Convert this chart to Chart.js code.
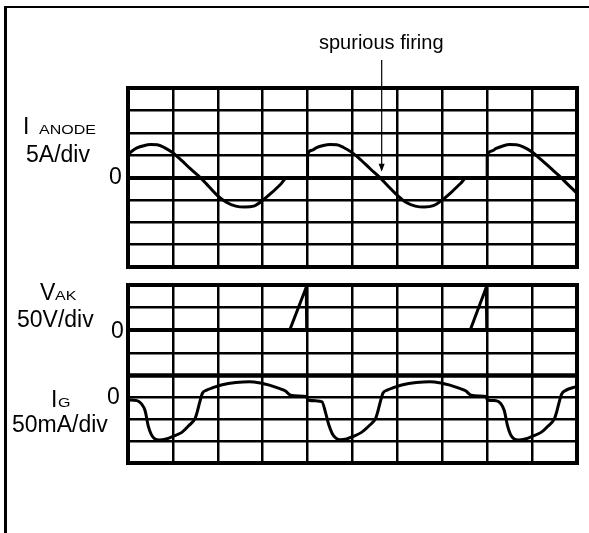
<!DOCTYPE html>
<html>
<head>
<meta charset="utf-8">
<script src="https://cdn.jsdelivr.net/npm/chart.js@4.4.1/dist/chart.umd.min.js"></script>
<style>
  html, body { margin: 0; padding: 0; background: #fff; }
  body { width: 589px; height: 533px; position: relative; overflow: hidden;
         font-family: "Liberation Sans", Arial, Helvetica, sans-serif; color: #000; }
  canvas { position: absolute; left: 0; }
  .frame { position: absolute; left: 4px; top: 6px; width: 700px; height: 700px;
           border-left: 3px solid #000; border-top: 2px solid #000; }
  .lbl { position: absolute; white-space: nowrap; font-size: 23px; line-height: 23px; z-index: 2; }
  .sub { font-size: 16px; line-height: 16px; transform: scaleY(0.8); transform-origin: 0 13.5px; }
  .note { font-size: 20px; line-height: 20px; }
</style>
</head>
<body>
<div class="frame"></div>

<div class="lbl note" style="left:319px; top:32px;">spurious firing</div>

<div class="lbl" style="left:23px; top:115px;">I</div>
<div class="lbl sub" style="left:39px; top:121px;">ANODE</div>
<div class="lbl" style="left:26px; top:143px;">5A/div</div>
<div class="lbl" style="left:109px; top:165px;">0</div>

<div class="lbl" style="left:40px; top:281px;">V</div>
<div class="lbl sub" style="left:55px; top:287px;">AK</div>
<div class="lbl" style="left:17px; top:308px;">50V/div</div>
<div class="lbl" style="left:111px; top:319px;">0</div>

<div class="lbl" style="left:51px; top:388px;">I</div>
<div class="lbl sub" style="left:58px; top:394px;">G</div>
<div class="lbl" style="left:107px; top:385px;">0</div>
<div class="lbl" style="left:12px; top:413px;">50mA/div</div>

<canvas id="anode" width="589" height="272" style="top:0px;"></canvas>
<canvas id="vak" width="589" height="108" style="top:272px;"></canvas>
<canvas id="gate" width="589" height="162" style="top:371px;"></canvas>

<script>
// time axis in screen divisions (10 across)
const anodeTime = [0, 0.1, 0.2, 0.35, 0.5, 0.65, 0.8, 1.0, 1.2, 1.4, 1.6, 1.8, 2.0, 2.2, 2.4, 2.6, 2.8, 3.0, 3.2, 3.4, 3.55, 3.999,
  4.0, 4.1, 4.2, 4.35, 4.5, 4.65, 4.8, 5.0, 5.2, 5.4, 5.6, 5.8, 6.0, 6.2, 6.4, 6.6, 6.8, 7.0, 7.2, 7.4, 7.55, 7.999,
  8.0, 8.1, 8.2, 8.35, 8.5, 8.65, 8.8, 9.0, 9.2, 9.4, 9.6, 9.8, 10.0];
// anode current, A (5 A/div)
const anodeAmps = [5.2, 6.0, 6.6, 7.1, 7.35, 7.3, 6.75, 5.5, 3.75, 1.85, 0.1, -2.0, -4.1, -5.6, -6.4, -6.6, -6.4, -5.1, -3.4, -1.5, 0, 0,
  5.2, 6.1, 6.7, 7.15, 7.35, 7.3, 6.7, 5.5, 3.8, 1.9, 0.1, -2.0, -4.0, -5.6, -6.4, -6.6, -6.3, -5.0, -3.3, -1.4, 0, 0,
  4.8, 5.9, 6.5, 7.05, 7.35, 7.3, 6.85, 5.7, 4.0, 2.2, 0.4, -1.6, -3.5];

const vakTime = [0, 3.6, 3.97, 3.98, 7.62, 7.98, 7.99, 10];
// anode-cathode voltage, V (50 V/div)
const vakVolts = [0, 0, 95, 0, 0, 95, 0, 0];

const gateTime = [0, 0.2, 0.3, 0.38, 0.45, 0.52, 0.6, 0.7, 0.85, 1.0, 1.2, 1.35, 1.5, 1.55, 1.6, 1.66, 1.75, 1.9, 2.1, 2.4, 2.7, 2.95, 3.15, 3.35, 3.5, 3.62, 3.8, 3.98,
  4.0, 4.2, 4.32, 4.4, 4.47, 4.55, 4.63, 4.72, 4.87, 5.02, 5.2, 5.37, 5.52, 5.57, 5.62, 5.68, 5.77, 5.92, 6.12, 6.42, 6.72, 6.97, 7.17, 7.37, 7.52, 7.64, 7.82, 7.98,
  8.0, 8.2, 8.3, 8.38, 8.45, 8.52, 8.6, 8.7, 8.85, 9.0, 9.2, 9.35, 9.5, 9.55, 9.6, 9.66, 9.75, 9.9, 10.0];
// gate current, mA (50 mA/div)
const gateMilliamps = [-6, -7.5, -15, -30, -65, -85, -95, -97.5, -95, -89, -80, -65, -47, -30, -10, 10, 16.5, 22.5, 29, 34, 36, 33, 28, 21, 15, 5, 3, 2,
  -6, -8, -10, -35, -62, -83, -93, -97, -95, -89, -80, -65, -47, -30, -10, 10, 16.5, 22.5, 29, 34, 36, 33, 28, 21, 15, 5, 3, 2,
  -6, -7.5, -14, -30, -64, -85, -95, -97.5, -95, -89, -80, -66, -48, -32, -12, 8, 16, 22, 25];

const spuriousFiring = { time: 5.65, amps: 1.3 };

function points(xs, ys) {
  return xs.map((x, i) => ({ x: x, y: ys[i] }));
}

const scopeFrame = {
  id: 'scopeFrame',
  afterDraw(chart) {
    const a = chart.chartArea;
    const ctx = chart.ctx;
    ctx.save();
    ctx.lineWidth = 4;
    ctx.strokeStyle = '#000';
    ctx.strokeRect(a.left, a.top, a.right - a.left, a.bottom - a.top);
    ctx.restore();
  }
};

const firingArrow = {
  id: 'firingArrow',
  afterDraw(chart) {
    const x = chart.scales.x.getPixelForValue(spuriousFiring.time);
    const tip = chart.scales.y.getPixelForValue(spuriousFiring.amps);
    const ctx = chart.ctx;
    ctx.save();
    ctx.strokeStyle = '#000';
    ctx.fillStyle = '#000';
    ctx.lineWidth = 1.2;
    ctx.beginPath();
    ctx.moveTo(x, 60);
    ctx.lineTo(x, tip - 6);
    ctx.stroke();
    ctx.beginPath();
    ctx.moveTo(x, tip);
    ctx.lineTo(x - 3, tip - 8);
    ctx.lineTo(x + 3, tip - 8);
    ctx.closePath();
    ctx.fill();
    ctx.restore();
  }
};

function scopeChart(id, data, smooth, yMin, yMax, yStep, thickAt, pad, extra) {
  return new Chart(document.getElementById(id), {
    type: 'line',
    data: {
      datasets: [{
        data: data,
        borderColor: '#000',
        borderWidth: 3,
        pointRadius: 0,
        tension: 0,
        cubicInterpolationMode: smooth ? 'monotone' : 'default'
      }]
    },
    options: {
      responsive: false,
      animation: false,
      events: [],
      layout: { padding: pad },
      plugins: { legend: { display: false }, tooltip: { enabled: false } },
      scales: {
        x: {
          type: 'linear', min: 0, max: 10,
          ticks: { display: false, stepSize: 1 },
          grid: { color: '#000', lineWidth: 2.5, drawTicks: false, tickLength: 0 },
          border: { display: false }
        },
        y: {
          type: 'linear', min: yMin, max: yMax,
          ticks: { display: false, stepSize: yStep },
          grid: {
            color: '#000',
            lineWidth: ctx => (ctx.tick && ctx.tick.value === thickAt ? 4 : 2.5),
            drawTicks: false, tickLength: 0
          },
          border: { display: false }
        }
      }
    },
    plugins: [scopeFrame].concat(extra || [])
  });
}

scopeChart('anode', points(anodeTime, anodeAmps), true, -20, 20, 5, 0,
  { left: 128, top: 88, right: 12, bottom: 5 }, [firingArrow]);
scopeChart('vak', points(vakTime, vakVolts), false, -100, 100, 50, 0,
  { left: 128, top: 13, right: 12, bottom: 4.5 });
scopeChart('gate', points(gateTime, gateMilliamps), true, -150, 50, 50, null,
  { left: 128, top: 4.5, right: 12, bottom: 70 });
</script>
</body>
</html>
